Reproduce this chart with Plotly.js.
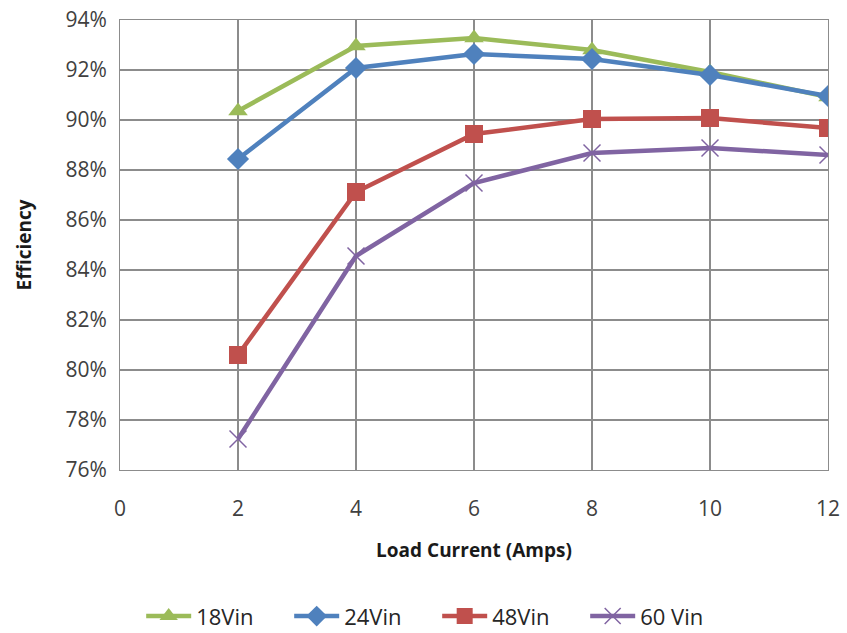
<!DOCTYPE html>
<html><head><meta charset="utf-8">
<script src="https://cdn.plot.ly/plotly-3.0.1.min.js"></script>
<style>body{margin:0;background:#fff}#c{width:847px;height:633px}</style>
</head><body><div id="c"></div>
<script>
const loadCurrent = [2, 4, 6, 8, 10, 12];
const v18 = [0.9036, 0.9296, 0.9328, 0.9280, 0.9192, 0.9092];
const v24 = [0.8844, 0.9208, 0.9264, 0.9244, 0.9180, 0.9096];
const v48 = [0.8060, 0.8712, 0.8944, 0.9004, 0.9008, 0.8968];
const v60 = [0.7724, 0.8456, 0.8748, 0.8868, 0.8888, 0.8860];
const seriesNames = ['18Vin', '24Vin', '48Vin', '60 Vin'];

const colors = ['#9BBB59', '#4F81BD', '#C0504D', '#8064A2'];
const symbols = ['triangle-up', 'diamond', 'square', 'x-thin-open'];
const sizes = [17, 17, 18, 17];
const data = [v18, v24, v48, v60].map((v, i) => ({
  x: loadCurrent, y: v, name: seriesNames[i], type: 'scatter', mode: 'lines+markers',
  line: {color: colors[i], width: 4.5},
  marker: {symbol: symbols[i], size: sizes[i], color: colors[i], line: {color: colors[i], width: i === 3 ? 1.5 : 0}}
}));

const font = {family: 'Open Sans, Liberation Sans, sans-serif', color: '#404040', size: 21};
const layout = {
  width: 847, height: 633,
  margin: {l: 120, r: 19, t: 20, b: 163, autoexpand: false},
  paper_bgcolor: '#fff', plot_bgcolor: '#fff',
  font: font,
  showlegend: true,
  legend: {orientation: 'h', x: 0.448, xanchor: 'center', y: -0.325, yanchor: 'middle',
    font: {size: 22, color: '#262626'}, itemwidth: 45, entrywidth: 88, entrywidthmode: 'pixels'},
  xaxis: {range: [0, 12], dtick: 2, tick0: 0, showgrid: true, gridcolor: '#8c8c8c', gridwidth: 1.3,
    showline: true, linecolor: '#8c8c8c', mirror: true, zeroline: false,
    ticks: 'outside', ticklen: 20, tickcolor: 'rgba(0,0,0,0)',
    title: {text: '<b>Load Current (Amps)</b>', font: {size: 19, color: '#1a1a1a'}, standoff: 22}},
  yaxis: {range: [0.76, 0.94], dtick: 0.02, tick0: 0.76, tickformat: '.0%', showgrid: true, gridcolor: '#8c8c8c', gridwidth: 1.3,
    showline: true, linecolor: '#8c8c8c', mirror: true, zeroline: false,
    ticks: 'outside', ticklen: 8, tickcolor: 'rgba(0,0,0,0)',
    title: {text: '<b>Efficiency</b>', font: {size: 19, color: '#1a1a1a'}, standoff: 28}}
};
Plotly.newPlot('c', data, layout, {displayModeBar: false, staticPlot: true});
</script></body></html>
